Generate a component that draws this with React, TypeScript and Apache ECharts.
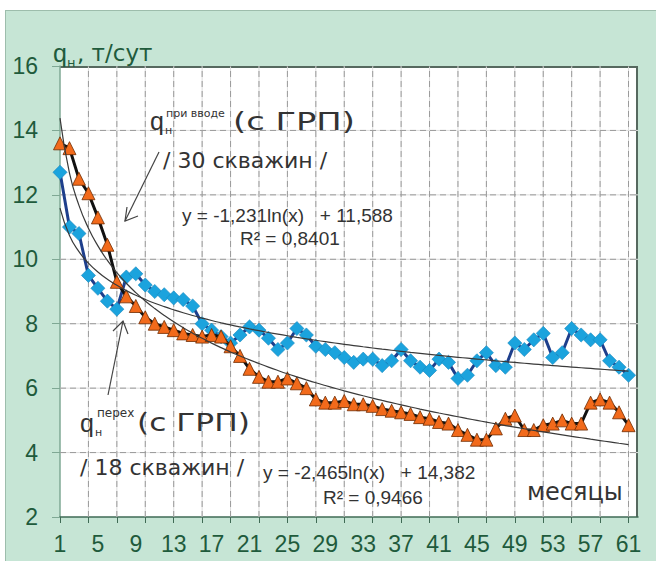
import React, { useEffect, useRef } from "react";
import * as echarts from "echarts";

// Months on the category axis (1..62, last slot empty like the reference)
const months: string[] = Array.from({ length: 62 }, (_, i) => String(i + 1));

// q_н при вводе (с ГРП), 30 скважин — orange triangles
const orangeValues: number[] = [
  13.6, 13.45, 12.5, 12.05, 11.3, 10.45, 9.3, 8.85, 8.55, 8.2,
  8.0, 7.9, 7.8, 7.7, 7.65, 7.6, 7.65, 7.6, 7.3, 7.0,
  6.6, 6.35, 6.2, 6.2, 6.3, 6.15, 6.0, 5.65, 5.55, 5.55,
  5.6, 5.5, 5.5, 5.45, 5.35, 5.3, 5.25, 5.2, 5.1, 5.05,
  4.95, 4.9, 4.7, 4.55, 4.4, 4.4, 4.75, 5.05, 5.15, 4.7,
  4.7, 4.85, 4.9, 5.0, 4.9, 4.9, 5.55, 5.65, 5.55, 5.25,
  4.85,
];

// q_н перех (с ГРП), 18 скважин — blue diamonds
const blueValues: number[] = [
  12.7, 11.0, 10.8, 9.5, 9.1, 8.7, 8.45, 9.45, 9.55, 9.2,
  9.0, 8.9, 8.8, 8.75, 8.55, 8.0, 7.8, 7.6, 7.4, 7.65,
  7.9, 7.8, 7.55, 7.2, 7.4, 7.85, 7.65, 7.3, 7.2, 7.1,
  6.95, 6.8, 6.9, 6.9, 6.7, 6.85, 7.2, 6.85, 6.65, 6.55,
  6.9, 6.8, 6.3, 6.4, 6.85, 7.1, 6.7, 6.65, 7.4, 7.2,
  7.5, 7.7, 6.95, 7.1, 7.85, 7.65, 7.5, 7.5, 6.85, 6.65,
  6.4,
];

// Trend-line equations printed on the chart: y = a·ln(x) + b
const blueTrend = { a: -1.231, b: 11.588 };
const orangeTrend = { a: -2.465, b: 14.382 };

const yTicks = { min: 2, max: 16, interval: 2 };
// gridlines: horizontal at every inner y tick, vertical every 3rd month
const hGridValues: number[] = [4, 6, 8, 10, 12, 14];
const vGridMonths: string[] = months.filter((_, i) => i > 0 && i % 3 === 0);

const trend = (t: { a: number; b: number }, n: number) =>
  Array.from({ length: n }, (_, i) => +(t.a * Math.log(i + 1) + t.b).toFixed(3));

const GREEN_TEXT = "#1f5b3c";
const DARK = "#333333";

const PLOT = { left: 60, top: 66, right: 18, bottom: 44 };
const W = 656;
const H = 561;

function txt(
  text: string,
  x: number,
  y: number,
  size: number,
  o: { fill?: string; ff?: string; sx?: number; align?: string } = {}
) {
  return {
    type: "text",
    x,
    y,
    scaleX: o.sx ?? 1,
    z: 100,
    style: {
      text,
      x: 0,
      y: 0,
      fill: o.fill ?? DARK,
      fontSize: size,
      fontFamily: o.ff ?? "Liberation Sans",
      verticalAlign: "middle",
      align: o.align ?? "left",
    },
  };
}

function arrow(x1: number, y1: number, x2: number, y2: number, w1: number[], w2: number[]) {
  return [
    { type: "line", z: 100, shape: { x1, y1, x2, y2 }, style: { stroke: "#444", lineWidth: 1.2 } },
    {
      type: "polyline",
      z: 100,
      shape: { points: [w1, [x2, y2], w2] },
      style: { stroke: "#444", lineWidth: 1.2, fill: "none" },
    },
  ];
}

function gridSeries(data: (string | number)[][], solid: boolean) {
  return {
    type: "line",
    data,
    symbol: "none",
    silent: true,
    z: solid ? 1 : 2,
    lineStyle: solid
      ? { color: "#dddddd", width: 1, type: "solid" }
      : { color: "#9a9a9a", width: 1, type: [6, 4] },
  };
}

export default function App() {
  const ref = useRef<HTMLDivElement>(null);

  useEffect(() => {
    if (!ref.current) return;
    const chart = echarts.init(ref.current, undefined, { renderer: "svg" });

    const first = months[0];
    const last = months[months.length - 1];
    const gridLines: (string | number)[][][] = [
      ...hGridValues.map((v) => [[first, v], [last, v]]),
      ...vGridMonths.map((m) => [[m, yTicks.min], [m, yTicks.max]]),
    ];
    const gridSeriesList = [
      ...gridLines.map((d) => gridSeries(d, true)),
      ...gridLines.map((d) => gridSeries(d, false)),
    ];

    const option = {
      animation: false,
      backgroundColor: "transparent",
      grid: { ...PLOT, show: false },
      xAxis: {
        type: "category",
        data: months,
        boundaryGap: false,
        axisLine: { show: true, lineStyle: { color: "#3f6b55", width: 1.5 } },
        axisTick: { show: true, interval: 2, length: 6, lineStyle: { color: "#3f6b55" } },
        axisLabel: {
          interval: 3,
          fontSize: 23,
          color: GREEN_TEXT,
          fontFamily: "Liberation Sans",
          margin: 15,
        },
        splitLine: { show: false },
      },
      yAxis: {
        type: "value",
        min: yTicks.min,
        max: yTicks.max,
        interval: yTicks.interval,
        axisLine: { show: true, lineStyle: { color: "#7fa894", width: 1.5 } },
        axisTick: { show: true, length: 8, lineStyle: { color: "#7fa894" } },
        axisLabel: {
          fontSize: 23,
          color: GREEN_TEXT,
          fontFamily: "Liberation Sans",
          margin: 22,
        },
        splitLine: { show: false },
      },
      series: [
        ...gridSeriesList,
        {
          name: "перех",
          type: "line",
          data: blueValues,
          showAllSymbol: true,
          symbol: "rect",
          symbolRotate: 45,
          symbolSize: 10,
          itemStyle: { color: "#1ba3dd", borderColor: "#1788c0", borderWidth: 0.6 },
          lineStyle: { color: "#1e3f8c", width: 3 },
          z: 3,
        },
        {
          name: "при вводе",
          type: "line",
          data: orangeValues,
          showAllSymbol: true,
          symbol: "triangle",
          symbolSize: 13,
          itemStyle: { color: "#f26a1b", borderColor: "#6e2b00", borderWidth: 0.8 },
          lineStyle: { color: "#111111", width: 3 },
          z: 4,
        },
        {
          name: "trend перех",
          type: "line",
          data: trend(blueTrend, 61),
          symbol: "none",
          smooth: true,
          lineStyle: { color: "#3a3a3a", width: 1.2 },
          z: 6,
        },
        {
          name: "trend при вводе",
          type: "line",
          data: trend(orangeTrend, 61),
          symbol: "none",
          smooth: true,
          lineStyle: { color: "#3a3a3a", width: 1.2 },
          z: 6,
        },
      ],
      graphic: [
        // axis title
        txt("q", 53, 53, 25, { fill: GREEN_TEXT }),
        txt("н", 67, 62, 13, { fill: GREEN_TEXT, ff: "DejaVu Sans" }),
        txt(", т/сут", 77, 53, 23, { fill: GREEN_TEXT, ff: "DejaVu Sans" }),
        // annotation 1
        txt("q", 150, 121, 25),
        txt("н", 165, 130, 11, { ff: "DejaVu Sans" }),
        txt("при вводе", 166, 113, 11, { ff: "DejaVu Sans" }),
        txt("(с ГРП)", 233, 121, 25, { ff: "DejaVu Sans", sx: 1.35 }),
        txt("/ 30 скважин /", 163, 160, 22, { ff: "DejaVu Sans" }),
        ...arrow(159, 152, 125, 221, [127, 207], [138, 216]),
        txt("y = -1,231ln(x)   + 11,588", 182, 215, 19),
        txt("R² = 0,8401", 240, 238, 19),
        // annotation 2
        txt("q", 80, 423, 25),
        txt("н", 95, 432, 11, { ff: "DejaVu Sans" }),
        txt("перех", 97, 413, 12, { ff: "DejaVu Sans" }),
        txt("(с ГРП)", 137, 423, 25, { ff: "DejaVu Sans", sx: 1.25 }),
        txt("/ 18 скважин /", 80, 467, 22, { ff: "DejaVu Sans" }),
        ...arrow(108, 395, 123, 321, [113, 331], [128, 334]),
        txt("y = -2,465ln(x)   + 14,382", 263, 472, 19),
        txt("R² = 0,9466", 323, 497, 19),
        txt("месяцы", 527, 492, 24, { ff: "DejaVu Sans" }),
      ],
    };

    chart.setOption(option as any);
    return () => chart.dispose();
  }, []);

  const pw = W - PLOT.left - PLOT.right;
  const ph = H - PLOT.top - PLOT.bottom;

  return (
    <div style={{ position: "absolute", left: 0, top: 0, width: W, height: H, background: "#ffffff", overflow: "hidden" }}>
      <div
        style={{
          position: "absolute",
          left: 5,
          top: 10,
          width: W,
          height: H,
          background: "#c6e5d5",
          border: "1px solid #9dbdac",
        }}
      />
      <div
        style={{
          position: "absolute",
          left: PLOT.left,
          top: PLOT.top,
          width: pw,
          height: ph,
          boxSizing: "border-box",
          background: "#ffffff",
          borderTop: "2px solid #56695f",
          borderRight: "2px solid #56695f",
        }}
      />
      <div ref={ref} style={{ position: "absolute", left: 0, top: 0, width: W, height: H }} />
    </div>
  );
}
